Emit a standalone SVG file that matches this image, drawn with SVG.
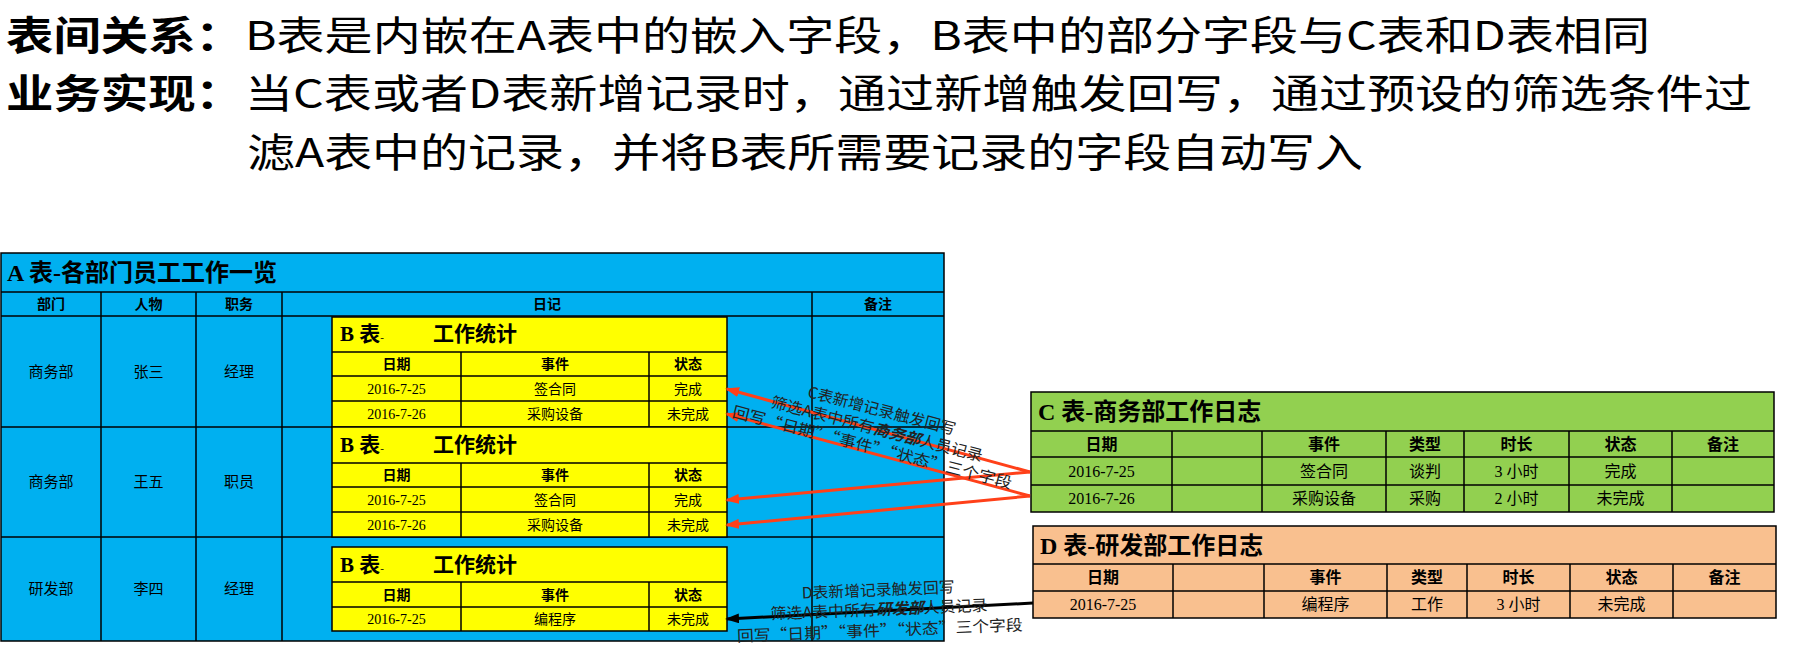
<svg xmlns="http://www.w3.org/2000/svg" width="1795" height="661" viewBox="0 0 1795 661">
<style>
.f{font-family:"Liberation Serif","Noto Sans CJK SC",serif;fill:#000}
.s{font-family:"Noto Sans CJK SC","Noto Sans",sans-serif;fill:#000}
.m{text-anchor:middle}
.b{font-weight:bold}
.bx{stroke:#000;stroke-width:1.5}
.ln{stroke:#000;stroke-width:1.5;fill:none}
.hd{font-size:14px;font-weight:bold}
.bd{font-size:14px}
.cd{font-size:16px}
.ttl{font-size:24px;font-weight:bold}
.bt{font-size:21px;font-weight:bold}
.top{font-size:39.5px}
.lab{font-size:15.5px;fill:#222}
.red{stroke:#FF4019;stroke-width:3;fill:none}
.blk{stroke:#000;stroke-width:3;fill:none}
</style>
<defs>
<marker id="ar" viewBox="0 0 14 10" refX="12" refY="5" markerWidth="14" markerHeight="10" markerUnits="userSpaceOnUse" orient="auto">
<path d="M0,0 L14,5 L0,10 z" fill="#FF4019"/>
</marker>
<marker id="ak" viewBox="0 0 14 10" refX="12" refY="5" markerWidth="14" markerHeight="10" markerUnits="userSpaceOnUse" orient="auto">
<path d="M0,0 L14,5 L0,10 z" fill="#000"/>
</marker>
</defs>
<rect width="1795" height="661" fill="#fff"/>

<g id="heading" class="s">
<text x="6" y="50" class="top b" textLength="237" lengthAdjust="spacingAndGlyphs">表间关系：</text>
<text x="245" y="50" class="top" textLength="1405" lengthAdjust="spacingAndGlyphs">B表是内嵌在A表中的嵌入字段，B表中的部分字段与C表和D表相同</text>
<text x="6" y="108" class="top b" textLength="237" lengthAdjust="spacingAndGlyphs">业务实现：</text>
<text x="245" y="108" class="top" textLength="1507" lengthAdjust="spacingAndGlyphs">当C表或者D表新增记录时，通过新增触发回写，通过预设的筛选条件过</text>
<text x="247" y="167" class="top" textLength="1116" lengthAdjust="spacingAndGlyphs">滤A表中的记录，并将B表所需要记录的字段自动写入</text>
</g>

<g id="tableA">
<rect x="1" y="253" width="943" height="388" fill="#00B0F0" class="bx"/>
<path class="ln" d="M1,292H944M1,316H944M1,427H944M1,537H944M101,292V641M196,292V641M282,292V641M812,292V641"/>
<text x="7" y="281" class="f ttl">A 表-各部门员工工作一览</text>
<g class="s m hd">
<text x="51" y="309">部门</text><text x="148.5" y="309">人物</text><text x="239" y="309">职务</text><text x="547" y="309">日记</text><text x="878" y="309">备注</text>
</g>
<g class="s m" font-size="15">
<text x="51" y="377">商务部</text><text x="148.5" y="377">张三</text><text x="239" y="377">经理</text>
<text x="51" y="487">商务部</text><text x="148.5" y="487">王五</text><text x="239" y="487">职员</text>
<text x="51" y="594">研发部</text><text x="148.5" y="594">李四</text><text x="239" y="594">经理</text>
</g>
</g>

<g id="tableB1">
<rect x="332" y="317" width="395" height="110" fill="#FFFF00" class="bx"/>
<path class="ln" d="M332,352H727M332,376H727M332,401H727M461,352V427M649,352V427"/>
<text x="340" y="341" class="f bt">B 表<tspan font-size="11" font-weight="normal">-</tspan></text>
<text x="433" y="341" class="s bt">工作统计</text>
<text x="396.5" y="369" class="s m hd">日期</text><text x="555" y="369" class="s m hd">事件</text><text x="688" y="369" class="s m hd">状态</text>
<text x="396.5" y="393.5" class="f m bd">2016-7-25</text><text x="555" y="393.5" class="f m bd">签合同</text><text x="688" y="393.5" class="f m bd">完成</text>
<text x="396.5" y="419" class="f m bd">2016-7-26</text><text x="555" y="419" class="f m bd">采购设备</text><text x="688" y="419" class="f m bd">未完成</text>
</g>

<g id="tableB2">
<rect x="332" y="427" width="395" height="110" fill="#FFFF00" class="bx"/>
<path class="ln" d="M332,463H727M332,487H727M332,512H727M461,463V537M649,463V537"/>
<text x="340" y="452" class="f bt">B 表<tspan font-size="11" font-weight="normal">-</tspan></text>
<text x="433" y="452" class="s bt">工作统计</text>
<text x="396.5" y="480" class="s m hd">日期</text><text x="555" y="480" class="s m hd">事件</text><text x="688" y="480" class="s m hd">状态</text>
<text x="396.5" y="504.5" class="f m bd">2016-7-25</text><text x="555" y="504.5" class="f m bd">签合同</text><text x="688" y="504.5" class="f m bd">完成</text>
<text x="396.5" y="529.5" class="f m bd">2016-7-26</text><text x="555" y="529.5" class="f m bd">采购设备</text><text x="688" y="529.5" class="f m bd">未完成</text>
</g>

<g id="tableB3">
<rect x="332" y="547" width="395" height="84" fill="#FFFF00" class="bx"/>
<path class="ln" d="M332,582H727M332,607H727M461,582V631M649,582V631"/>
<text x="340" y="572" class="f bt">B 表<tspan font-size="11" font-weight="normal">-</tspan></text>
<text x="433" y="572" class="s bt">工作统计</text>
<text x="396.5" y="599.5" class="s m hd">日期</text><text x="555" y="599.5" class="s m hd">事件</text><text x="688" y="599.5" class="s m hd">状态</text>
<text x="396.5" y="624" class="f m bd">2016-7-25</text><text x="555" y="624" class="f m bd">编程序</text><text x="688" y="624" class="f m bd">未完成</text>
</g>

<g id="tableC">
<rect x="1031" y="392" width="743" height="120" fill="#92D050" class="bx"/>
<path class="ln" d="M1031,431H1774M1031,457H1774M1031,485H1774M1172,431V512M1262,431V512M1386,431V512M1464,431V512M1569,431V512M1672,431V512"/>
<text x="1038" y="420" class="f ttl">C 表-商务部工作日志</text>
<g class="s m b" font-size="16">
<text x="1101.5" y="450">日期</text><text x="1324" y="450">事件</text><text x="1425" y="450">类型</text><text x="1516.5" y="450">时长</text><text x="1620.5" y="450">状态</text><text x="1723" y="450">备注</text>
</g>
<g class="f m cd">
<text x="1101.5" y="477">2016-7-25</text><text x="1324" y="477">签合同</text><text x="1425" y="477">谈判</text><text x="1516.5" y="477">3 小时</text><text x="1620.5" y="477">完成</text>
<text x="1101.5" y="504">2016-7-26</text><text x="1324" y="504">采购设备</text><text x="1425" y="504">采购</text><text x="1516.5" y="504">2 小时</text><text x="1620.5" y="504">未完成</text>
</g>
</g>

<g id="tableD">
<rect x="1033" y="526" width="743" height="92" fill="#F9C08F" class="bx"/>
<path class="ln" d="M1033,564H1776M1033,591H1776M1173,564V618M1264,564V618M1387,564V618M1467,564V618M1570,564V618M1673,564V618"/>
<text x="1040" y="554" class="f ttl">D 表-研发部工作日志</text>
<g class="s m b" font-size="16">
<text x="1103" y="583">日期</text><text x="1325.5" y="583">事件</text><text x="1427" y="583">类型</text><text x="1518.5" y="583">时长</text><text x="1621.5" y="583">状态</text><text x="1724.5" y="583">备注</text>
</g>
<g class="f m cd">
<text x="1103" y="610">2016-7-25</text><text x="1325.5" y="610">编程序</text><text x="1427" y="610">工作</text><text x="1518.5" y="610">3 小时</text><text x="1621.5" y="610">未完成</text>
</g>
</g>

<g id="connectors">
<path class="red" d="M1030,472 L727,389" marker-end="url(#ar)"/>
<path class="red" d="M1030,496 L727,414" marker-end="url(#ar)"/>
<path class="red" d="M1030,472 L727,500" marker-end="url(#ar)"/>
<path class="red" d="M1030,496 L727,525" marker-end="url(#ar)"/>
<path class="blk" d="M1033,603 L727,619" marker-end="url(#ak)"/>
</g>

<g id="labelC" class="s m lab" transform="translate(877,429) rotate(14.5)">
<text x="0" y="-13.5" textLength="152" lengthAdjust="spacingAndGlyphs">C表新增记录触发回写</text>
<text x="0" y="5.5" textLength="218" lengthAdjust="spacingAndGlyphs">筛选A表中所有<tspan font-weight="bold" font-style="italic">商务部</tspan>人员记录</text>
<text x="0" y="24.5" textLength="288" lengthAdjust="spacingAndGlyphs">回写“日期”“事件”“状态”三个字段</text>
</g>

<g id="labelD" class="s m lab" transform="translate(879,610) rotate(-2.3)">
<text x="0" y="-14.5" textLength="153" lengthAdjust="spacingAndGlyphs">D表新增记录触发回写</text>
<text x="0" y="5" textLength="217" lengthAdjust="spacingAndGlyphs">筛选A表中所有<tspan font-weight="bold" font-style="italic">研发部</tspan>人员记录</text>
<text x="0" y="26" textLength="286" lengthAdjust="spacingAndGlyphs">回写“日期”“事件”“状态”三个字段</text>
</g>
</svg>
